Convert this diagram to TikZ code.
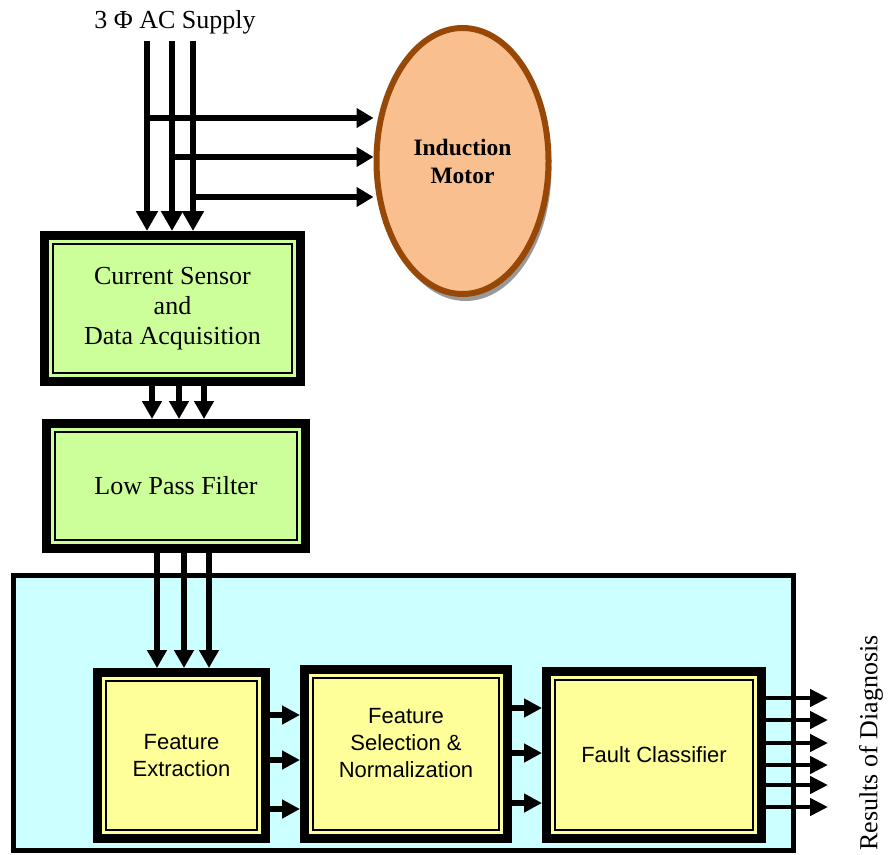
\documentclass[tikz,border=0pt]{standalone}
\usepackage{fontspec}
\setmainfont{Liberation Serif}
\newfontfamily\blocksans{Liberation Sans}
\usetikzlibrary{arrows.meta,shapes.geometric,shadows}
\definecolor{sensegreen}{HTML}{CCFF99}
\definecolor{featyellow}{HTML}{FFFF99}
\definecolor{panelcyan}{HTML}{CCFFFF}
\definecolor{motorfill}{HTML}{F9BF8F}
\definecolor{motorbrown}{HTML}{984806}
\tikzset{
  framebox/.style={
    draw=black,
    line width=9pt,
    fill=#1,
    align=center,
    inner sep=0pt,
    path picture={\draw[line width=2pt] ([shift={(8.5pt,-8.5pt)}]path picture bounding box.north west) rectangle ([shift={(-8.5pt,8.5pt)}]path picture bounding box.south east);}
  },
  stagebox/.style={framebox=sensegreen, font=\fontsize{26}{30}\selectfont},
  featbox/.style={framebox=featyellow, font=\blocksans\fontsize{22}{27}\selectfont},
  diagpanel/.style={draw=black, line width=5pt, fill=panelcyan, inner sep=0pt},
  motorshape/.style={
    ellipse,
    draw=motorbrown,
    line width=6pt,
    fill=motorfill,
    align=center,
    inner sep=0pt,
    font=\bfseries\fontsize{23.5}{28}\selectfont,
    drop shadow={shadow xshift=3pt, shadow yshift=-7pt, fill=black!40, opacity=1}
  },
  bigtext/.style={font=\fontsize{26}{30}\selectfont, inner sep=0pt},
  supplyline/.style={line width=5.5pt, -{Triangle[length=20pt, width=21pt]}},
  motorline/.style={line width=5.5pt, -{Triangle[length=17pt, width=19pt]}},
  busarrow/.style={line width=6pt, -{Triangle[length=18pt, width=19pt]}},
  linkarrow/.style={line width=6pt, -{Triangle[length=18pt, width=18pt]}},
  outarrow/.style={line width=4.5pt, -{Triangle[length=18pt, width=17pt]}}
}

\begin{document}
\begin{tikzpicture}[x=1pt, y=-1pt]
\useasboundingbox (0,0) rectangle (888,854);
% diagnosis panel
\node[diagpanel, minimum width=780pt, minimum height=274.5pt] (diag) at (403.5,712.75) {};

\node[bigtext] (supply) at (175,22) {3 Φ AC Supply};
\node[motorshape, minimum width=172pt, minimum height=266pt] (motor) at (462.5,161) {Induction\\Motor};
\node[stagebox, minimum width=256pt, minimum height=146pt] (sensor) at (172.5,308.5) {Current Sensor\\and\\Data Acquisition};
\node[stagebox, minimum width=259pt, minimum height=125pt] (lpf) at (176,486) {Low Pass Filter};
\node[featbox, minimum width=168pt, minimum height=166pt] (fext) at (181.5,755.5) {Feature\\Extraction};
\node[featbox, minimum width=203pt, minimum height=169pt, text depth=22pt] (fsel) at (406,754) {Feature\\Selection \&\\Normalization};
\node[featbox, minimum width=215pt, minimum height=167pt] (fclass) at (654,755) {Fault Classifier};
\node[bigtext, rotate=90] (results) at (871,743) {Results of Diagnosis};

\coordinate (phA) at (147,41);
\coordinate (phB) at (172,41);
\coordinate (phC) at (193,41);
\coordinate (tapA) at (147,118);
\coordinate (tapB) at (172,157);
\coordinate (tapC) at (193,197);
\coordinate (outend) at (828,0);

\foreach \p in {A,B,C}
  \draw[supplyline] (ph\p) -- (ph\p |- sensor.north);
\foreach \p in {A,B,C}
  \draw[motorline] (tap\p) -- (motor.west |- tap\p);
\foreach \x in {152,179,204}
  \draw[busarrow] (sensor.south -| \x,0) -- (lpf.north -| \x,0);
\foreach \x in {157,184,209}
  \draw[busarrow] (lpf.south -| \x,0) -- (fext.north -| \x,0);
\foreach \y in {715,760,809}
  \draw[linkarrow] (fext.east |- 0,\y) -- (fsel.west |- 0,\y);
\foreach \y in {708,753,803}
  \draw[linkarrow] (fsel.east |- 0,\y) -- (fclass.west |- 0,\y);
\foreach \y in {698,720,743,765,785,807}
  \draw[outarrow] (fclass.east |- 0,\y) -- (outend |- 0,\y);
\end{tikzpicture}
\end{document}
